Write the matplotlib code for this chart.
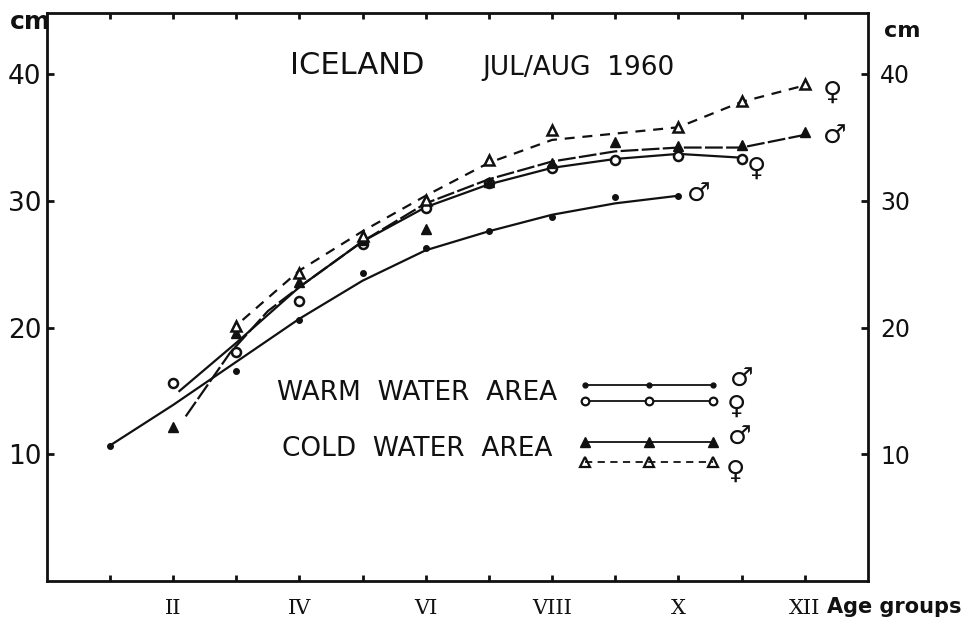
import matplotlib
matplotlib.use("Agg")
import matplotlib.pyplot as plt

# ---- data (cm by age group) ----
AGE_LABELS = ["", "II", "", "IV", "", "VI", "", "VIII", "", "X", "", "XII"]
AGE_TICKS = list(range(1, 13))
CM_TICKS = [10, 20, 30, 40]

# warm water area, males (filled dots)
wm_age = [1, 3, 4, 5, 6, 7, 8, 9, 10]
wm_len = [10.7, 16.6, 20.6, 24.3, 26.3, 27.6, 28.7, 30.3, 30.4]
wm_curve_age = [1, 2, 3, 4, 5, 6, 7, 8, 9, 10]
wm_curve_len = [10.7, 13.9, 17.3, 20.7, 23.7, 26.1, 27.6, 28.9, 29.8, 30.4]

# warm water area, females (open circles)
wf_age = [2, 3, 4, 5, 6, 7, 8, 9, 10, 11]
wf_len = [15.6, 18.1, 22.1, 26.6, 29.4, 31.4, 32.6, 33.2, 33.5, 33.3]
wf_curve_age = [2.1, 3, 4, 5, 6, 7, 8, 9, 10, 11]
wf_curve_len = [15.0, 18.8, 23.2, 26.8, 29.5, 31.3, 32.6, 33.3, 33.7, 33.4]

# cold water area, males (filled triangles)
cm_age = [2, 3, 4, 5, 6, 7, 8, 9, 10, 11, 12]
cm_len = [12.2, 19.6, 23.6, 26.9, 27.8, 31.5, 33.0, 34.6, 34.3, 34.4, 35.4]
cm_curve_age = [2.2, 2.9, 3.5, 4, 5, 6, 7, 8, 9, 10, 11, 12]
cm_curve_len = [13.0, 18.0, 21.3, 23.2, 26.8, 29.8, 31.7, 33.1, 33.9, 34.2, 34.2, 35.2]

# cold water area, females (open triangles)
cf_age = [3, 4, 5, 6, 7, 8, 10, 11, 12]
cf_len = [20.1, 24.3, 27.2, 30.1, 33.2, 35.6, 35.8, 37.9, 39.2]
cf_curve_age = [3.1, 4, 5, 6, 7, 8, 9, 10, 11, 12]
cf_curve_len = [20.6, 24.5, 27.6, 30.4, 33.0, 34.8, 35.3, 35.8, 37.8, 39.1]

INK = "#111111"
LW = 1.6
COLD_M_DASH = (0, (8, 1.5))
COLD_F_DASH = (0, (4.5, 3.5))

fig = plt.figure(figsize=(9.74, 6.25), dpi=100)
ax = fig.add_axes([0.048, 0.070, 0.843, 0.909])
ax.set_xlim(0, 13)
ax.set_ylim(0, 44.8)

# curves
ax.plot(wm_curve_age, wm_curve_len, color=INK, lw=LW, zorder=2)
ax.plot(wf_curve_age, wf_curve_len, color=INK, lw=LW, zorder=2)
ax.plot(cm_curve_age, cm_curve_len, color=INK, lw=LW, linestyle=COLD_M_DASH, zorder=2)
ax.plot(cf_curve_age, cf_curve_len, color=INK, lw=LW, linestyle=COLD_F_DASH, zorder=2)

# points
ax.plot(wm_age, wm_len, "o", ms=4, color=INK, zorder=3)
ax.plot(wf_age, wf_len, "o", ms=6.5, mfc="white", mec=INK, mew=1.8, zorder=3)
ax.plot(cm_age, cm_len, "^", ms=7, color=INK, zorder=3)
ax.plot(cf_age, cf_len, "^", ms=7.5, mfc="white", mec=INK, mew=1.8, zorder=3)

# sex symbols at the ends of the curves
sym_kw = dict(textcoords="offset points", ha="center", va="center",
              fontsize=19, fontweight="bold", color=INK)
ax.annotate("\u2640", xy=(cf_age[-1], cf_len[-1]), xytext=(20, -6), **sym_kw)
ax.annotate("\u2642", xy=(cm_age[-1], cm_len[-1]), xytext=(22, -3), **sym_kw)
ax.annotate("\u2640", xy=(wf_age[-1], wf_len[-1]), xytext=(11, -7), **sym_kw)
ax.annotate("\u2642", xy=(wm_age[-1], wm_len[-1]), xytext=(15, 1), **sym_kw)

# hand-drawn style key
key_x = [0.655, 0.733, 0.811]
tr = ax.transAxes
ax.plot(key_x, [0.345] * 3, "o-", transform=tr, color=INK, lw=1.3, ms=3.5)
ax.plot(key_x, [0.317] * 3, "o-", transform=tr, color=INK, lw=1.3, ms=5.5,
        mfc="white", mew=1.6)
ax.plot(key_x, [0.245] * 3, "^-", transform=tr, color=INK, lw=1.3, ms=7)
ax.plot(key_x, [0.210] * 3, "^", transform=tr, color=INK, ms=7, mfc="white", mew=1.6)
ax.plot(key_x, [0.210] * 3, transform=tr, color=INK, lw=1.3, linestyle=(0, (4, 3)))
for sx, sy, s in [(0.846, 0.355, "\u2642"), (0.840, 0.307, "\u2640"),
                  (0.844, 0.253, "\u2642"), (0.839, 0.193, "\u2640")]:
    ax.text(sx, sy, s, transform=tr, ha="center", va="center",
            fontsize=19, fontweight="bold", color=INK)

ax.text(0.281, 0.331, "WARM  WATER  AREA", transform=tr, ha="left", va="center",
        fontsize=19, color=INK)
ax.text(0.287, 0.232, "COLD  WATER  AREA", transform=tr, ha="left", va="center",
        fontsize=19, color=INK)

# title text
ax.text(0.296, 0.908, "ICELAND", transform=tr, ha="left", va="center",
        fontsize=22, color=INK)
ax.text(0.531, 0.903, "JUL/AUG  1960", transform=tr, ha="left", va="center",
        fontsize=19, color=INK)

# axes
for sp in ax.spines.values():
    sp.set_linewidth(2.0)
    sp.set_color(INK)

ax.set_xticks(AGE_TICKS)
ax.set_xticklabels(AGE_LABELS, fontfamily="DejaVu Serif", fontsize=15)
ax.set_yticks(CM_TICKS)
ax.set_yticklabels([str(v) for v in CM_TICKS], fontsize=19)
ax.tick_params(axis="x", direction="in", length=4, width=2, top=True, pad=13,
               colors=INK)
ax.tick_params(axis="y", direction="in", length=5, width=2, pad=4, colors=INK)

ax_r = ax.twinx()
ax_r.set_ylim(ax.get_ylim())
ax_r.set_yticks(CM_TICKS)
ax_r.set_yticklabels([str(v) for v in CM_TICKS], fontsize=17)
ax_r.tick_params(axis="y", direction="in", length=5, width=2, pad=9, colors=INK)
for sp in ax_r.spines.values():
    sp.set_visible(False)

fig.text(0.010, 0.965, "cm", fontsize=18, fontweight="bold", color=INK,
         ha="left", va="center")
fig.text(0.908, 0.950, "cm", fontsize=16, fontweight="bold", color=INK,
         ha="left", va="center")
fig.text(0.849, 0.029, "Age groups", fontsize=15, fontweight="bold", color=INK,
         ha="left", va="center")

fig.savefig("out.png", dpi=100, facecolor="white")
